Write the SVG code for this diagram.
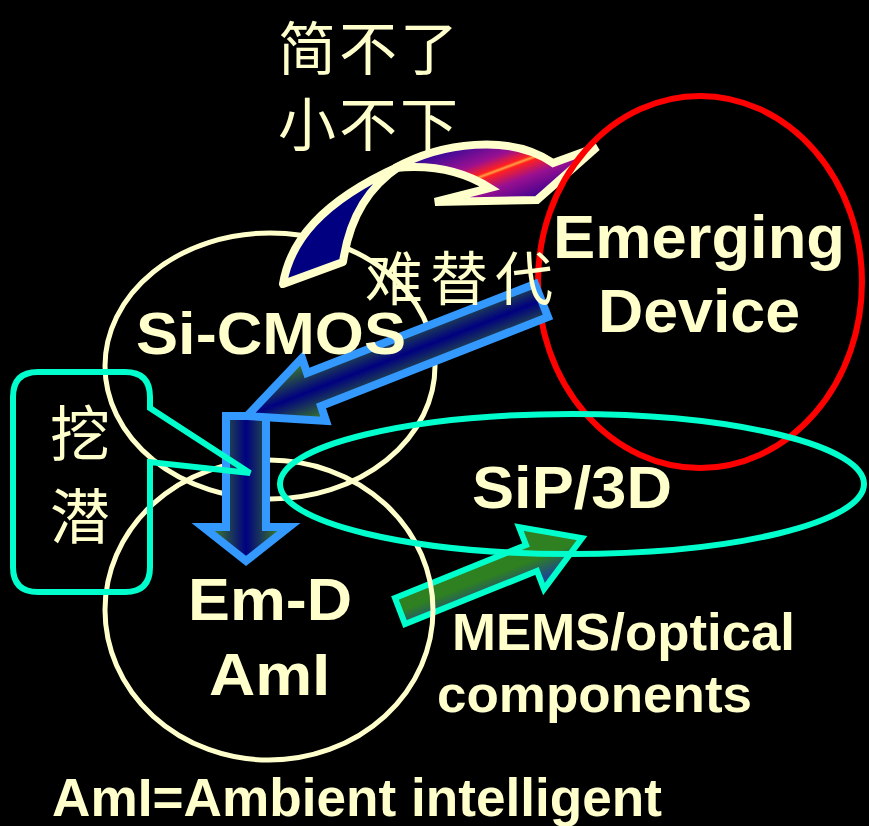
<svg xmlns="http://www.w3.org/2000/svg" width="869" height="826" viewBox="0 0 869 826">
<defs>
<style>
.cream{fill:none;stroke:#FFFFCC;stroke-width:5}
.big{font-family:"Liberation Sans",Arial,sans-serif;font-weight:bold;fill:#FFFFCC}
.cjk{font-family:"Noto Sans CJK SC","Noto Sans CJK TC",sans-serif;fill:#FFFFCC}
.blue{stroke:#3399FF;stroke-width:8;stroke-linejoin:miter}
</style>
<linearGradient id="headGrad" gradientUnits="userSpaceOnUse" x1="486" y1="132" x2="514" y2="207">
<stop offset="0" stop-color="#2a0a9a"/>
<stop offset="0.33" stop-color="#9a1090"/>
<stop offset="0.47" stop-color="#ff2020"/>
<stop offset="0.5" stop-color="#ffa040"/>
<stop offset="0.53" stop-color="#ff2020"/>
<stop offset="0.7" stop-color="#9a1090"/>
<stop offset="1" stop-color="#3a0090"/>
</linearGradient>
<linearGradient id="diagGrad" gradientUnits="userSpaceOnUse" x1="236" y1="388" x2="258" y2="444">
<stop offset="0" stop-color="#3a7a2a"/>
<stop offset="0.5" stop-color="#000080"/>
<stop offset="1" stop-color="#3a7a2a"/>
</linearGradient>
<linearGradient id="vertGrad" gradientUnits="userSpaceOnUse" x1="214" y1="0" x2="278" y2="0">
<stop offset="0" stop-color="#3a7a2a"/>
<stop offset="0.5" stop-color="#000080"/>
<stop offset="1" stop-color="#3a7a2a"/>
</linearGradient>
<linearGradient id="greenGrad" gradientUnits="userSpaceOnUse" x1="507" y1="520" x2="531" y2="582">
<stop offset="0" stop-color="#1e4a8a"/>
<stop offset="0.3" stop-color="#2f8020"/>
<stop offset="0.7" stop-color="#2f8020"/>
<stop offset="1" stop-color="#1e4a8a"/>
</linearGradient>
</defs>
<rect width="869" height="826" fill="#000"/>

<g id="connectors">
<g id="arrow-mems">
<path d="M395,598 L526,545 L519,527 L582,538 L544,589 L537,571 L405,624 Z" fill="url(#greenGrad)" stroke="#00FFCC" stroke-width="6"/>
</g>
</g>

<g id="si-cmos-circle"><ellipse cx="270" cy="366" rx="165" ry="133" class="cream"/></g>
<g id="em-d-circle"><ellipse cx="269" cy="610" rx="164" ry="150" class="cream"/></g>

<g id="arrow-curved">
<path d="M283,284 C290,242 320,202 400,166 C370,186 350,215 343,262 Z" fill="#000080" stroke="#FFFFCC" stroke-width="8" stroke-linejoin="round"/>
<path d="M395,168 C440,143 510,133 553,163 L597,147 L537,200 L435,202 L490,188 C465,172 435,164 395,168 Z" fill="url(#headGrad)" stroke="#FFFFCC" stroke-width="8" stroke-linejoin="miter"/>
</g>

<g id="emerging-ellipse"><ellipse cx="700" cy="282" rx="162" ry="186" fill="none" stroke="#FF0000" stroke-width="6"/></g>
<g id="sip-ellipse"><ellipse cx="572" cy="484" rx="292" ry="70" fill="none" stroke="#00FFCC" stroke-width="6"/></g>

<g id="arrows-blue">
<path d="M226,416 H266 V527 H289 L246,561 L203,527 H226 Z" fill="url(#vertGrad)" class="blue"/>
<path d="M247,416 L302,358 L307,373 L535,284 L548,317 L321,406 L326,421 Z" fill="url(#diagGrad)" class="blue"/>
</g>

<g id="callout">
<path d="M38,372 H125 Q150,372 150,397 V408 L250,473 L150,462 V567 Q150,592 125,592 H38 Q13,592 13,567 V397 Q13,372 38,372 Z" fill="none" stroke="#00FFCC" stroke-width="6" stroke-linejoin="miter"/>
<text class="cjk" x="50" y="456" font-size="60">挖</text>
<text class="cjk" x="50" y="539" font-size="60">潜</text>
</g>

<g id="label-top">
<text class="cjk" x="278" y="70" font-size="58" letter-spacing="3">简不了</text>
<text class="cjk" x="278" y="146" font-size="58" letter-spacing="3">小不下</text>
</g>
<g id="label-replace"><text class="cjk" x="365" y="300" font-size="58" letter-spacing="7">难替代</text></g>

<g id="node-emerging">
<text class="big" x="553" y="258" font-size="62" textLength="292" lengthAdjust="spacingAndGlyphs">Emerging</text>
<text class="big" x="598" y="332" font-size="62" textLength="202" lengthAdjust="spacingAndGlyphs">Device</text>
</g>
<g id="node-sicmos"><text class="big" x="136" y="354" font-size="60" textLength="270" lengthAdjust="spacingAndGlyphs">Si-CMOS</text></g>
<g id="node-sip"><text class="big" x="472" y="508" font-size="60" textLength="200" lengthAdjust="spacingAndGlyphs">SiP/3D</text></g>
<g id="node-emd">
<text class="big" x="188" y="620" font-size="60" textLength="164" lengthAdjust="spacingAndGlyphs">Em-D</text>
<text class="big" x="209" y="695" font-size="60" textLength="121" lengthAdjust="spacingAndGlyphs">AmI</text>
</g>
<g id="label-mems">
<text class="big" x="452" y="650" font-size="52" textLength="343" lengthAdjust="spacingAndGlyphs">MEMS/optical</text>
<text class="big" x="437" y="712" font-size="52" textLength="315" lengthAdjust="spacingAndGlyphs">components</text>
</g>
<g id="footnote"><text class="big" x="52" y="816" font-size="54" textLength="610" lengthAdjust="spacingAndGlyphs">AmI=Ambient intelligent</text></g>
</svg>
